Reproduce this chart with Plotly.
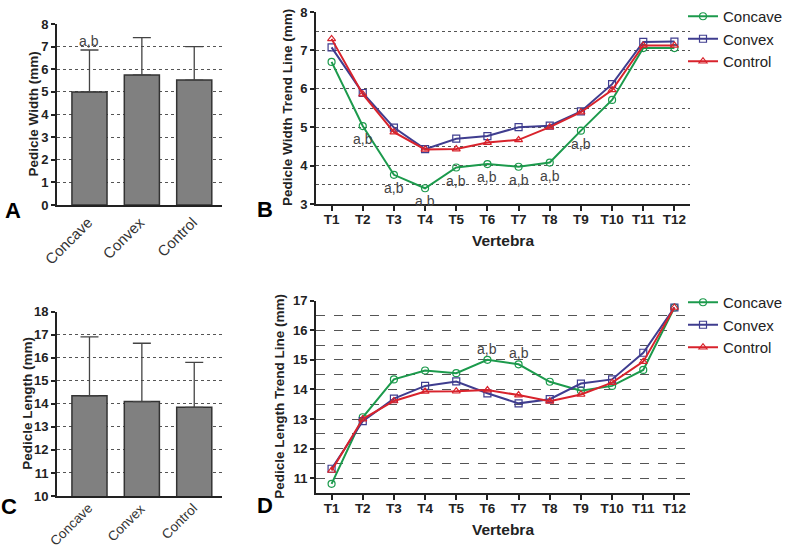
import plotly.graph_objects as go

# ---------------- data ----------------
groups = ["Concave", "Convex", "Control"]
width_mean = [5.0, 5.75, 5.52]
width_sd = [1.85, 1.65, 1.48]
length_mean = [14.35, 14.1, 13.85]
length_sd = [2.56, 2.53, 1.95]

vertebrae = ["T1", "T2", "T3", "T4", "T5", "T6", "T7", "T8", "T9", "T10", "T11", "T12"]
width_concave = [6.70, 5.03, 3.76, 3.41, 3.95, 4.04, 3.97, 4.08, 4.91, 5.71, 7.06, 7.06]
width_convex = [7.08, 5.89, 4.99, 4.43, 4.70, 4.77, 5.00, 5.04, 5.41, 6.12, 7.22, 7.23]
width_control = [7.30, 5.86, 4.87, 4.42, 4.43, 4.60, 4.67, 5.00, 5.39, 5.97, 7.13, 7.13]

length_concave = [10.81, 13.06, 14.34, 14.64, 14.55, 15.00, 14.85, 14.26, 13.96, 14.12, 14.66, 16.77]
length_convex = [11.32, 12.93, 13.69, 14.12, 14.27, 13.87, 13.53, 13.67, 14.20, 14.34, 15.24, 16.77]
length_control = [11.26, 13.00, 13.61, 13.93, 13.94, 13.98, 13.81, 13.60, 13.83, 14.23, 14.94, 16.77]

width_sig = ["T2", "T3", "T4", "T5", "T6", "T7", "T8", "T9"]
length_sig = ["T6", "T7"]
sig_label = "a,b"

# ---------------- style ----------------
W, H = 787, 550
FONT = "Liberation Sans, Arial, sans-serif"
GREEN, BLUE, RED = "#1c9a4c", "#3f3d8f", "#d8232c"
GRID = "#555555"


def px_x(p):
    return p / W


def px_y(p):
    return 1 - p / H


fig = go.Figure()

# Bars (A, C)
for mean, sd, xa, ya in [(width_mean, width_sd, "x", "y"), (length_mean, length_sd, "x3", "y3")]:
    fig.add_trace(go.Bar(
        x=groups, y=mean, xaxis=xa, yaxis=ya, width=0.67,
        marker=dict(color="#808080", line=dict(color="#333333", width=1.5)),
        error_y=dict(type="data", symmetric=False, array=sd, arrayminus=[0] * len(sd),
                     color="#444444", thickness=1.3, width=9),
        showlegend=False,
    ))

# Lines (B, D)
series = [("Concave", GREEN, "circle-open"), ("Convex", BLUE, "square-open"), ("Control", RED, "triangle-up-open")]
for (name, col, sym), yw, yl in zip(series, [width_concave, width_convex, width_control],
                                     [length_concave, length_convex, length_control]):
    fig.add_trace(go.Scatter(
        x=vertebrae, y=yw, xaxis="x2", yaxis="y2", name=name, mode="lines+markers",
        line=dict(color=col, width=2), marker=dict(symbol=sym, size=7, color=col, line=dict(width=1.2)),
        legend="legend",
    ))
    fig.add_trace(go.Scatter(
        x=vertebrae, y=yl, xaxis="x4", yaxis="y4", name=name, mode="lines+markers",
        line=dict(color=col, width=2), marker=dict(symbol=sym, size=7, color=col, line=dict(width=1.2)),
        legend="legend2",
    ))

axis_common = dict(showline=True, linecolor="#222222", linewidth=2,
                   tickwidth=2, tickcolor="#222222", zeroline=False, automargin=False)
tickfont_bold = dict(family=FONT, size=13, color="#222222", weight="bold")
xtickfont_bold = dict(family=FONT, size=13.5, color="#222222", weight="bold")


def tfont(size):
    return dict(family=FONT, size=size, color="#222222", weight="bold")


xA = [px_x(57), px_x(222)]
xB = [px_x(316), px_x(690)]
yA = [px_y(205), px_y(24)]
yC = [px_y(496), px_y(311.7)]
yB = [px_y(204), px_y(12)]
yD = [px_y(493), px_y(300.7)]

layout = dict(
    width=W, height=H, margin=dict(l=0, r=0, t=0, b=0, autoexpand=False),
    paper_bgcolor="white", plot_bgcolor="white",
    font=dict(family=FONT),
    xaxis=dict(domain=xA, anchor="y", range=[-0.62, 2.53], showticklabels=False, ticks="",
               showgrid=False, **axis_common),
    yaxis=dict(domain=yA, anchor="x", range=[0, 8], dtick=1, ticks="outside", ticklen=4,
               showgrid=True, gridcolor=GRID, griddash="dot", gridwidth=1,
               tickfont=tickfont_bold, **axis_common),
    xaxis3=dict(domain=xA, anchor="y3", range=[-0.62, 2.53], showticklabels=False, ticks="",
                showgrid=False, **axis_common),
    yaxis3=dict(domain=yC, anchor="x3", range=[10, 18], dtick=1, ticks="outside", ticklen=4,
                showgrid=True, gridcolor=GRID, griddash="dot", gridwidth=1,
                tickfont=tickfont_bold, **axis_common),
    xaxis2=dict(domain=xB, anchor="y2", range=[-0.5, 11.5], showgrid=False, ticks="outside", ticklen=5,
                tickfont=xtickfont_bold, ticklabelstandoff=-3,
                title=dict(text="Vertebra", font=tfont(15.5), standoff=9),
                **axis_common),
    yaxis2=dict(domain=yB, anchor="x2", range=[3, 8], dtick=1, ticks="outside", ticklen=4,
                showgrid=True, gridcolor=GRID, griddash="dot", gridwidth=1,
                minor=dict(dtick=0.5, showgrid=True, gridcolor=GRID, griddash="dot", gridwidth=1, ticks=""),
                tickfont=tickfont_bold, **axis_common),
    xaxis4=dict(domain=xB, anchor="y4", range=[-0.5, 11.5], showgrid=False, ticks="outside", ticklen=5,
                tickfont=xtickfont_bold, ticklabelstandoff=-3,
                title=dict(text="Vertebra", font=tfont(15.5), standoff=9),
                **axis_common),
    yaxis4=dict(domain=yD, anchor="x4", range=[10.5, 17], dtick=1, tick0=11,
                ticks="outside", ticklen=4,
                showgrid=True, gridcolor=GRID, griddash="dash", gridwidth=1,
                minor=dict(dtick=0.5, showgrid=True, gridcolor=GRID, griddash="dash", gridwidth=1, ticks=""),
                tickfont=tickfont_bold, **axis_common),
    legend=dict(x=px_x(683), y=1, xanchor="left", yanchor="top",
                font=dict(family=FONT, size=15, color="#222222"), bgcolor="rgba(0,0,0,0)",
                tracegroupgap=0, itemwidth=30),
    legend2=dict(x=px_x(683), y=px_y(286), xanchor="left", yanchor="top",
                 font=dict(family=FONT, size=15, color="#222222"), bgcolor="rgba(0,0,0,0)",
                 tracegroupgap=0, itemwidth=30),
)
fig.update_layout(**layout)

annotations = []
# y-axis titles
for text, tx, dom, size in [("Pedicle Width (mm)", 33, yA, 13.5), ("Pedicle Length (mm)", 28, yC, 13.5),
                            ("Pedicle Width Trend Line (mm)", 288, yB, 13.5),
                            ("Pedicle Length Trend Line (mm)", 280, yD, 13.5)]:
    annotations.append(dict(x=px_x(tx), y=(dom[0] + dom[1]) / 2, xref="paper", yref="paper", text=text,
                            textangle=-90, showarrow=False, xanchor="center", yanchor="middle",
                            font=tfont(size)))

# rotated category labels for bar panels
for xa, ya, base, fsize, ysh in [("x", "y", 0, 15, -6), ("x3", "y3", 10, 13.5, -2)]:
    for g in groups:
        annotations.append(dict(x=g, y=base, xref=xa, yref=ya, text=g, textangle=-45,
                                showarrow=False, xanchor="right", yanchor="top",
                                xshift=9, yshift=ysh, font=dict(family=FONT, size=fsize, color="#333333")))

# significance labels
ann_font = dict(family=FONT, size=14, color="#444444")
annotations.append(dict(x=groups[0], y=width_mean[0] + width_sd[0], xref="x", yref="y", text=sig_label,
                        showarrow=False, yanchor="bottom", yshift=-1, font=ann_font))
for t in width_sig:
    i = vertebrae.index(t)
    annotations.append(dict(x=t, y=width_concave[i], xref="x2", yref="y2", text=sig_label,
                            showarrow=False, yanchor="top", yshift=-3, font=ann_font))
for t in length_sig:
    i = vertebrae.index(t)
    annotations.append(dict(x=t, y=length_concave[i], xref="x4", yref="y4", text=sig_label,
                            showarrow=False, yanchor="bottom", yshift=1, font=ann_font))

# panel letters
letter_font = dict(family=FONT, size=22, color="black", weight="bold")
for letter, lx, ly in [("A", 13, 210), ("B", 265, 209), ("C", 9, 506), ("D", 265, 505)]:
    annotations.append(dict(x=px_x(lx), y=px_y(ly), xref="paper", yref="paper", text=letter,
                            showarrow=False, xanchor="center", yanchor="middle", font=letter_font))
fig.update_layout(annotations=annotations)

fig.write_html("out.html", config={"displayModeBar": False},
               post_script="document.body.style.margin='0';")
